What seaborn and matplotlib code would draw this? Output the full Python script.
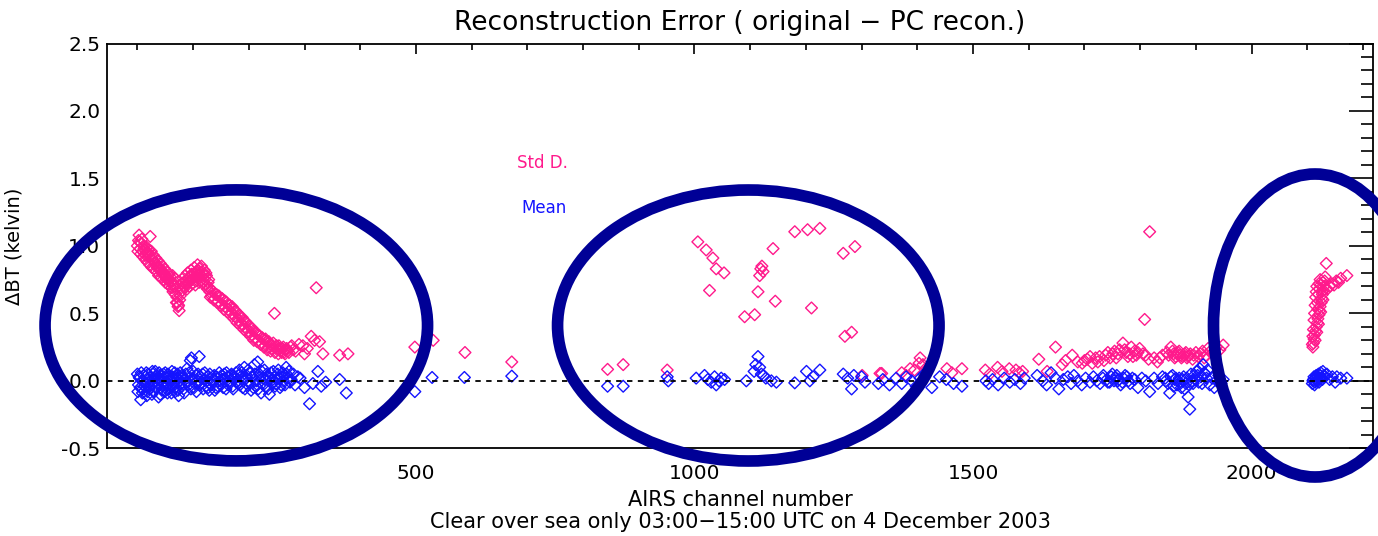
import numpy as np
import pandas as pd
import matplotlib
matplotlib.use("Agg")
import matplotlib.pyplot as plt
from matplotlib.patches import Ellipse
from matplotlib.ticker import MultipleLocator, FormatStrFormatter
import seaborn as sns

# ---- data: per-channel reconstruction error statistics (kelvin) ----
std_channel = [
    # channels 0-380
    0, 2, 3, 5, 7, 9, 11, 13, 15, 17, 19, 21, 23, 25, 27, 29, 31, 33, 35, 37,
    39, 41, 43, 45, 47, 49, 51, 53, 55, 57, 59, 61, 63, 65, 67, 69, 71, 72, 73, 75,
    76, 78, 80, 82, 84, 86, 88, 90, 92, 94, 96, 98, 100, 102, 104, 106, 108, 110, 112, 114,
    116, 118, 120, 122, 124, 126, 128, 130, 133, 136, 139, 142, 145, 148, 151, 154, 157, 160, 163, 166,
    169, 172, 175, 178, 181, 184, 187, 190, 193, 196, 199, 202, 205, 208, 211, 214, 217, 220, 223, 226,
    229, 232, 235, 238, 241, 244, 246, 248, 251, 254, 257, 260, 263, 266, 270, 275, 280, 290, 297, 300,
    305, 312, 318, 321, 327, 333, 363, 378,
    1, 4, 6, 8, 10, 12, 14, 16, 18, 20, 22, 24, 26, 28, 30, 32, 34, 36, 38, 40,
    42, 44, 46, 48, 50, 52, 54, 56, 58, 60, 62, 64, 66, 68, 70, 74, 77, 79, 81, 83,
    85, 87, 89, 91, 93, 95, 97, 99, 101, 103, 105, 107, 109, 111, 113, 115, 117, 119, 121, 123,
    125, 127, 129, 131, 134, 137, 140, 143, 146, 149, 152, 155, 158, 161, 164, 167, 170, 173, 176, 179,
    182, 185, 188, 191, 194, 197, 200, 203, 206, 209, 212, 215, 218, 221, 224, 227, 230, 233, 236, 239,
    242, 247, 250, 253, 256, 259, 262, 265, 268, 272, 277, 284,
    # channels 480-1340
    498, 531, 588, 672, 844, 872, 951, 1006, 1021, 1027, 1033, 1039, 1053, 1090, 1108, 1114, 1117, 1119, 1121, 1123,
    1141, 1145, 1180, 1203, 1210, 1225, 1267, 1270, 1282, 1288, 1301, 1333,
    # channels 1330-1960
    1336, 1372, 1380, 1387, 1395, 1403, 1405, 1410, 1418, 1453, 1462, 1480, 1522, 1530, 1544, 1552, 1565, 1577, 1583, 1589,
    1618, 1633, 1648, 1660, 1666, 1678, 1688, 1696, 1705, 1714, 1720, 1727, 1735, 1742, 1751, 1757, 1763, 1769, 1775, 1778,
    1784, 1790, 1793, 1799, 1805, 1808, 1810, 1817, 1825, 1831, 1840, 1848, 1855, 1860, 1864, 1868, 1872, 1876, 1880, 1884,
    1888, 1894, 1900, 1904, 1912, 1918, 1922, 1930, 1937, 1943, 1949,
    1700, 1710, 1724, 1738, 1746, 1754, 1760, 1772, 1781, 1787, 1796, 1815, 1835, 1851, 1858, 1862, 1866, 1870, 1874, 1878,
    1882, 1886, 1890, 1896, 1908, 1915, 1926, 1934,
    # channels 2100-2180
    2110, 2111, 2112, 2113, 2114, 2115, 2116, 2117, 2118, 2119, 2120, 2121, 2122, 2123, 2124, 2125, 2126, 2127, 2128, 2129,
    2130, 2131, 2132, 2134, 2136, 2140, 2144, 2148, 2152, 2156, 2160, 2171,
    2109, 2110, 2111, 2112, 2113, 2114, 2115, 2116, 2117, 2118, 2119, 2120, 2121, 2122, 2123, 2124, 2126, 2128,
]
std_value = [
    1.00, 1.04, 1.08, 0.98, 1.02, 0.96, 1.00, 0.97, 0.93, 0.99, 0.95, 0.92, 1.07, 0.96, 0.90, 0.93, 0.88, 0.91, 0.86, 0.89,
    0.84, 0.87, 0.82, 0.85, 0.80, 0.83, 0.78, 0.81, 0.76, 0.79, 0.77, 0.74, 0.78, 0.72, 0.76, 0.68, 0.62, 0.58, 0.55, 0.52,
    0.60, 0.66, 0.72, 0.76, 0.70, 0.78, 0.74, 0.80, 0.73, 0.77, 0.82, 0.75, 0.79, 0.84, 0.71, 0.81, 0.86, 0.78, 0.83, 0.74,
    0.80, 0.76, 0.82, 0.72, 0.78, 0.68, 0.75, 0.66, 0.63, 0.66, 0.61, 0.64, 0.59, 0.62, 0.57, 0.60, 0.55, 0.58, 0.53, 0.56,
    0.50, 0.53, 0.48, 0.51, 0.45, 0.48, 0.42, 0.45, 0.40, 0.43, 0.37, 0.40, 0.34, 0.37, 0.32, 0.35, 0.30, 0.33, 0.28, 0.31,
    0.26, 0.29, 0.25, 0.27, 0.24, 0.28, 0.50, 0.25, 0.23, 0.26, 0.22, 0.24, 0.21, 0.23, 0.22, 0.25, 0.23, 0.27, 0.26, 0.20,
    0.24, 0.33, 0.30, 0.69, 0.29, 0.20, 0.19, 0.20,
    0.96, 1.03, 0.94, 1.05, 0.92, 0.98, 0.90, 0.95, 0.88, 0.97, 0.86, 0.93, 0.84, 0.89, 0.83, 0.87, 0.81, 0.84, 0.78, 0.82,
    0.77, 0.80, 0.75, 0.78, 0.73, 0.76, 0.72, 0.74, 0.70, 0.73, 0.69, 0.66, 0.70, 0.64, 0.58, 0.56, 0.63, 0.69, 0.67, 0.73,
    0.69, 0.72, 0.68, 0.76, 0.70, 0.74, 0.79, 0.72, 0.76, 0.80, 0.74, 0.77, 0.82, 0.73, 0.79, 0.85, 0.72, 0.79, 0.75, 0.80,
    0.70, 0.73, 0.69, 0.62, 0.67, 0.60, 0.64, 0.58, 0.63, 0.56, 0.61, 0.53, 0.59, 0.51, 0.56, 0.49, 0.55, 0.46, 0.52, 0.43,
    0.49, 0.41, 0.47, 0.38, 0.44, 0.36, 0.41, 0.33, 0.39, 0.30, 0.36, 0.29, 0.34, 0.27, 0.32, 0.25, 0.31, 0.23, 0.29, 0.22,
    0.26, 0.21, 0.26, 0.20, 0.24, 0.21, 0.25, 0.20, 0.24, 0.21, 0.26, 0.22,
    0.25, 0.30, 0.21, 0.14, 0.085, 0.12, 0.08, 1.03, 0.97, 0.67, 0.91, 0.83, 0.80, 0.475, 0.49, 0.66, 0.78, 0.83, 0.85, 0.81,
    0.98, 0.59, 1.105, 1.12, 0.54, 1.13, 0.945, 0.33, 0.36, 0.995, 0.04, 0.055,
    0.055, 0.06, 0.04, 0.09, 0.08, 0.13, 0.17, 0.12, 0.09, 0.09, 0.06, 0.09, 0.08, 0.05, 0.10, 0.07, 0.09, 0.08, 0.06, 0.07,
    0.16, 0.07, 0.25, 0.12, 0.15, 0.19, 0.14, 0.13, 0.16, 0.13, 0.17, 0.18, 0.15, 0.21, 0.20, 0.17, 0.23, 0.28, 0.21, 0.18,
    0.25, 0.22, 0.19, 0.24, 0.20, 0.455, 0.19, 1.105, 0.17, 0.14, 0.19, 0.21, 0.25, 0.20, 0.18, 0.21, 0.19, 0.18, 0.20, 0.17,
    0.19, 0.16, 0.21, 0.18, 0.22, 0.19, 0.24, 0.21, 0.25, 0.23, 0.265,
    0.15, 0.18, 0.14, 0.19, 0.17, 0.22, 0.20, 0.23, 0.20, 0.18, 0.21, 0.16, 0.17, 0.19, 0.22, 0.17, 0.20, 0.22, 0.17, 0.19,
    0.21, 0.18, 0.20, 0.19, 0.20, 0.17, 0.22, 0.20,
    0.25, 0.28, 0.31, 0.34, 0.30, 0.37, 0.40, 0.36, 0.43, 0.46, 0.42, 0.49, 0.52, 0.55, 0.51, 0.58, 0.61, 0.64, 0.60, 0.67,
    0.70, 0.74, 0.77, 0.87, 0.68, 0.70, 0.72, 0.71, 0.74, 0.73, 0.76, 0.78,
    0.27, 0.33, 0.38, 0.45, 0.50, 0.56, 0.62, 0.66, 0.70, 0.58, 0.53, 0.64, 0.72, 0.68, 0.75, 0.71, 0.66, 0.73,
]

mean_channel = [
    # channels 0-380
    0, 2, 4, 6, 8, 10, 12, 14, 16, 18, 20, 22, 24, 26, 28, 30, 32, 34, 36, 38,
    40, 42, 44, 46, 48, 50, 52, 54, 56, 58, 60, 62, 64, 66, 68, 70, 72, 74, 76, 78,
    80, 83, 86, 89, 92, 95, 97, 99, 102, 105, 108, 111, 114, 117, 120, 123, 126, 129, 132, 135,
    138, 141, 144, 147, 150, 153, 156, 159, 162, 165, 168, 171, 174, 177, 180, 183, 186, 189, 192, 195,
    198, 201, 204, 207, 210, 213, 216, 219, 222, 225, 228, 231, 234, 237, 240, 243, 246, 249, 252, 255,
    258, 261, 264, 267, 270, 274, 280, 292, 300, 309, 315, 324, 330, 338, 363, 375,
    1, 3, 5, 7, 9, 11, 13, 15, 17, 19, 21, 23, 25, 27, 29, 31, 33, 35, 37, 39,
    41, 43, 45, 47, 49, 51, 53, 55, 57, 59, 61, 63, 65, 67, 69, 71, 73, 75, 77, 79,
    81, 84, 87, 90, 93, 96, 100, 103, 106, 109, 112, 115, 118, 121, 124, 127, 130, 133, 136, 139,
    142, 145, 148, 151, 154, 157, 160, 163, 166, 169, 172, 175, 178, 181, 184, 187, 190, 193, 196, 199,
    202, 205, 208, 211, 214, 217, 220, 223, 226, 229, 232, 235, 238, 241, 244, 247, 250, 253, 256, 259,
    262, 265, 268, 272, 276, 283, 288,
    # channels 480-1340
    498, 529, 587, 672, 844, 872, 951, 953, 1003, 1018, 1024, 1030, 1036, 1039, 1044, 1048, 1054, 1093, 1107, 1110,
    1114, 1117, 1120, 1124, 1128, 1138, 1147, 1180, 1201, 1207, 1213, 1225, 1267, 1275, 1282, 1286, 1300, 1306, 1330,
    # channels 1330-1960
    1338, 1350, 1362, 1372, 1380, 1390, 1398, 1405, 1412, 1426, 1440, 1452, 1465, 1480, 1523, 1528, 1535, 1545, 1556, 1566,
    1575, 1585, 1592, 1615, 1625, 1632, 1640, 1648, 1654, 1662, 1670, 1676, 1681, 1688, 1695, 1702, 1710, 1716, 1722, 1728,
    1734, 1740, 1745, 1750, 1755, 1760, 1765, 1770, 1776, 1782, 1790, 1796, 1803, 1810, 1817, 1825, 1832, 1840, 1846, 1853,
    1858, 1862, 1866, 1870, 1874, 1878, 1882, 1886, 1889, 1893, 1897, 1901, 1905, 1909, 1913, 1917, 1921, 1925, 1929, 1933,
    1937, 1941, 1945, 1949,
    1733, 1742, 1748, 1753, 1758, 1762, 1768, 1773, 1779, 1786, 1845, 1850, 1855, 1860, 1864, 1868, 1872, 1876, 1880, 1884,
    1888, 1891, 1895, 1899, 1903, 1907, 1911, 1915, 1919,
    # channels 2100-2180
    2109, 2111, 2113, 2115, 2117, 2119, 2121, 2123, 2125, 2128, 2131, 2135, 2140, 2145, 2150, 2153, 2160, 2171,
    2110, 2112, 2114, 2116, 2118, 2120, 2122, 2124, 2127, 2130,
]
mean_value = [
    0.05, -0.03, 0.02, -0.14, 0.00, -0.06, 0.04, -0.02, 0.06, -0.08, 0.01, -0.04, 0.03, -0.10, 0.05, -0.01, 0.07, -0.05, 0.02, -0.12,
    0.00, 0.04, -0.07, 0.02, -0.03, 0.06, -0.01, -0.09, 0.03, -0.05, 0.01, 0.07, -0.04, 0.02, -0.08, 0.00, 0.05, -0.11, 0.03, -0.02,
    0.04, -0.06, 0.01, 0.09, -0.03, 0.15, 0.17, 0.02, -0.05, 0.04, 0.00, 0.18, -0.02, 0.05, 0.01, -0.04, 0.03, -0.07, 0.02, -0.01,
    0.04, -0.05, 0.02, 0.06, -0.03, 0.01, 0.05, -0.06, 0.03, -0.02, 0.04, -0.04, 0.01, 0.06, -0.02, 0.08, 0.03, -0.05, 0.10, 0.02,
    -0.03, 0.06, -0.07, 0.03, 0.12, -0.04, 0.14, 0.05, -0.09, 0.02, 0.08, -0.05, 0.04, -0.10, 0.06, 0.01, 0.03, -0.02, 0.05, 0.02,
    -0.03, 0.06, 0.04, 0.10, 0.02, -0.01, 0.05, 0.02, -0.05, -0.17, -0.02, 0.07, -0.04, -0.01, 0.01, -0.09,
    -0.08, 0.03, -0.05, 0.06, -0.09, 0.00, -0.04, 0.03, -0.11, 0.05, -0.06, 0.00, -0.03, 0.07, -0.08, 0.02, -0.05, 0.04, -0.02, 0.06,
    -0.10, 0.01, -0.04, 0.05, -0.08, 0.02, -0.03, 0.05, -0.06, 0.00, -0.09, 0.03, -0.02, 0.06, -0.05, 0.02, -0.07, 0.00, 0.06, -0.04,
    0.02, -0.09, 0.05, -0.01, 0.06, -0.06, 0.07, -0.02, -0.08, 0.05, -0.03, 0.02, -0.06, 0.06, 0.00, -0.05, 0.05, -0.03, 0.01, -0.07,
    0.03, -0.04, 0.00, 0.04, -0.05, 0.02, 0.06, -0.03, 0.00, 0.05, -0.06, 0.03, -0.01, 0.04, -0.03, 0.06, 0.00, -0.06, 0.04, 0.08,
    -0.02, 0.03, -0.05, 0.05, 0.00, -0.06, 0.03, 0.07, -0.03, 0.01, 0.05, -0.06, 0.02, -0.02, 0.07, -0.04, 0.01, 0.08, -0.05, 0.03,
    0.00, -0.03, 0.05, 0.07, 0.01, -0.03, 0.03,
    -0.08, 0.025, 0.025, 0.035, -0.04, -0.04, 0.03, 0.00, 0.02, 0.04, 0.01, -0.01, 0.03, -0.03, 0.00, 0.02, 0.01, 0.00, 0.07, 0.12,
    0.18, 0.10, 0.05, 0.04, 0.02, 0.00, -0.01, -0.015, 0.07, 0.00, 0.03, 0.08, 0.05, 0.02, -0.06, 0.04, 0.03, -0.01, -0.02,
    0.01, -0.03, 0.02, -0.02, 0.03, 0.00, -0.04, 0.02, 0.05, -0.05, 0.03, 0.01, -0.02, -0.04, 0.00, -0.02, 0.01, -0.03, 0.02, -0.01,
    0.01, -0.02, 0.02, 0.04, 0.00, -0.03, 0.06, 0.02, -0.06, 0.01, 0.03, -0.02, 0.04, 0.00, -0.03, 0.02, -0.01, 0.03, 0.00, -0.02,
    0.04, 0.01, -0.01, 0.05, 0.02, 0.00, -0.03, 0.02, 0.03, -0.02, 0.01, -0.05, 0.02, 0.00, -0.08, 0.02, -0.02, 0.03, 0.00, -0.09,
    0.04, 0.01, -0.03, 0.02, -0.05, 0.03, -0.02, -0.12, -0.21, 0.00, 0.04, 0.07, -0.01, 0.03, 0.12, 0.05, 0.08, -0.03, 0.02, -0.05,
    0.00, 0.04, -0.02, 0.01,
    0.02, -0.01, 0.03, 0.00, 0.04, 0.01, -0.01, 0.04, 0.00, 0.02, 0.02, -0.02, 0.03, -0.04, 0.02, 0.00, -0.02, 0.01, -0.06, 0.02,
    -0.03, 0.05, -0.02, 0.01, 0.04, 0.09, -0.02, 0.06, 0.02,
    -0.02, 0.01, -0.03, 0.02, 0.00, 0.03, -0.01, 0.04, 0.02, 0.07, 0.03, 0.05, 0.01, 0.03, -0.01, 0.03, 0.02, 0.02,
    0.00, 0.03, -0.01, 0.04, 0.01, 0.05, 0.02, 0.06, 0.01, 0.04,
]

x_ticks = [500, 1000, 1500, 2000]
y_ticks = [-0.5, 0.0, 0.5, 1.0, 1.5, 2.0, 2.5]

PINK = "#ff1a8c"
BLUE = "#1414ff"
NAVY = "#000096"

std_df = pd.DataFrame({"channel": std_channel, "value": std_value})
mean_df = pd.DataFrame({"channel": mean_channel, "value": mean_value})

sns.set_theme(style="white")
plt.rcParams["font.family"] = ["DejaVu Sans"]

W, H = 1378, 536
fig = plt.figure(figsize=(W / 100, H / 100), dpi=100)
ax = fig.add_axes([107.3 / W, 1 - 448.3 / H, (1372.5 - 107.3) / W, (448.3 - 43.5) / H])

sns.scatterplot(data=std_df, x="channel", y="value", ax=ax, marker="D", s=36,
                color=PINK, facecolor="none", edgecolor=PINK, linewidth=1.0, zorder=3)
sns.scatterplot(data=mean_df, x="channel", y="value", ax=ax, marker="D", s=36,
                color=BLUE, facecolor="none", edgecolor=BLUE, linewidth=1.0, zorder=4)
ax.axhline(0.0, color="black", lw=1.3, ls=(0, (3, 3)), zorder=5)

ax.set_xlim(-54, 2217)
ax.set_ylim(-0.5, 2.5)
ax.set_xticks(x_ticks)
ax.set_yticks(y_ticks)
ax.xaxis.set_minor_locator(MultipleLocator(100))
ax.yaxis.set_minor_locator(MultipleLocator(0.1))
ax.yaxis.set_major_formatter(FormatStrFormatter("%.1f"))

for s in ax.spines.values():
    s.set_color("black")
    s.set_linewidth(1.3)
ax.tick_params(axis="both", which="both", direction="in", top=True, right=True,
               color="black", width=1.2, labelcolor="black", labelsize=14.5)
ax.tick_params(axis="x", which="major", length=7.2, pad=11)
ax.tick_params(axis="x", which="minor", length=4.3)
ax.tick_params(axis="y", which="major", length=17, pad=5)
ax.tick_params(axis="y", which="minor", length=8.6)

ax.set_xlabel("AIRS channel number", fontsize=15, color="black")
ax.xaxis.set_label_coords(0.5, -0.102)
ax.set_ylabel("ΔBT (kelvin)", fontsize=14, color="black")
ax.yaxis.set_label_coords(-0.066, 0.5)

fig.text(0.537, 0.957, "Reconstruction Error ( original \u2212 PC recon.)",
         ha="center", va="center", fontsize=19, color="black")
fig.text(0.537, 0.026, "Clear over sea only 03:00\u221215:00 UTC on 4 December 2003",
         ha="center", va="center", fontsize=15, color="black")

ax.text(682, 1.615, "Std D.", color=PINK, fontsize=12, ha="left", va="center")
ax.text(690, 1.28, "Mean", color=BLUE, fontsize=12, ha="left", va="center")

# highlight rings drawn over the figure
for cx, cy, ew, eh in [(236.3, 325.4, 382.5, 271), (748.3, 325.5, 381.5, 271), (1315, 325.5, 203, 303)]:
    fig.add_artist(Ellipse((cx / W, 1 - cy / H), ew / W, eh / H, transform=fig.transFigure,
                           fill=False, edgecolor=NAVY, linewidth=8.4, clip_on=False, zorder=10))

fig.savefig("out.png", dpi=100)
